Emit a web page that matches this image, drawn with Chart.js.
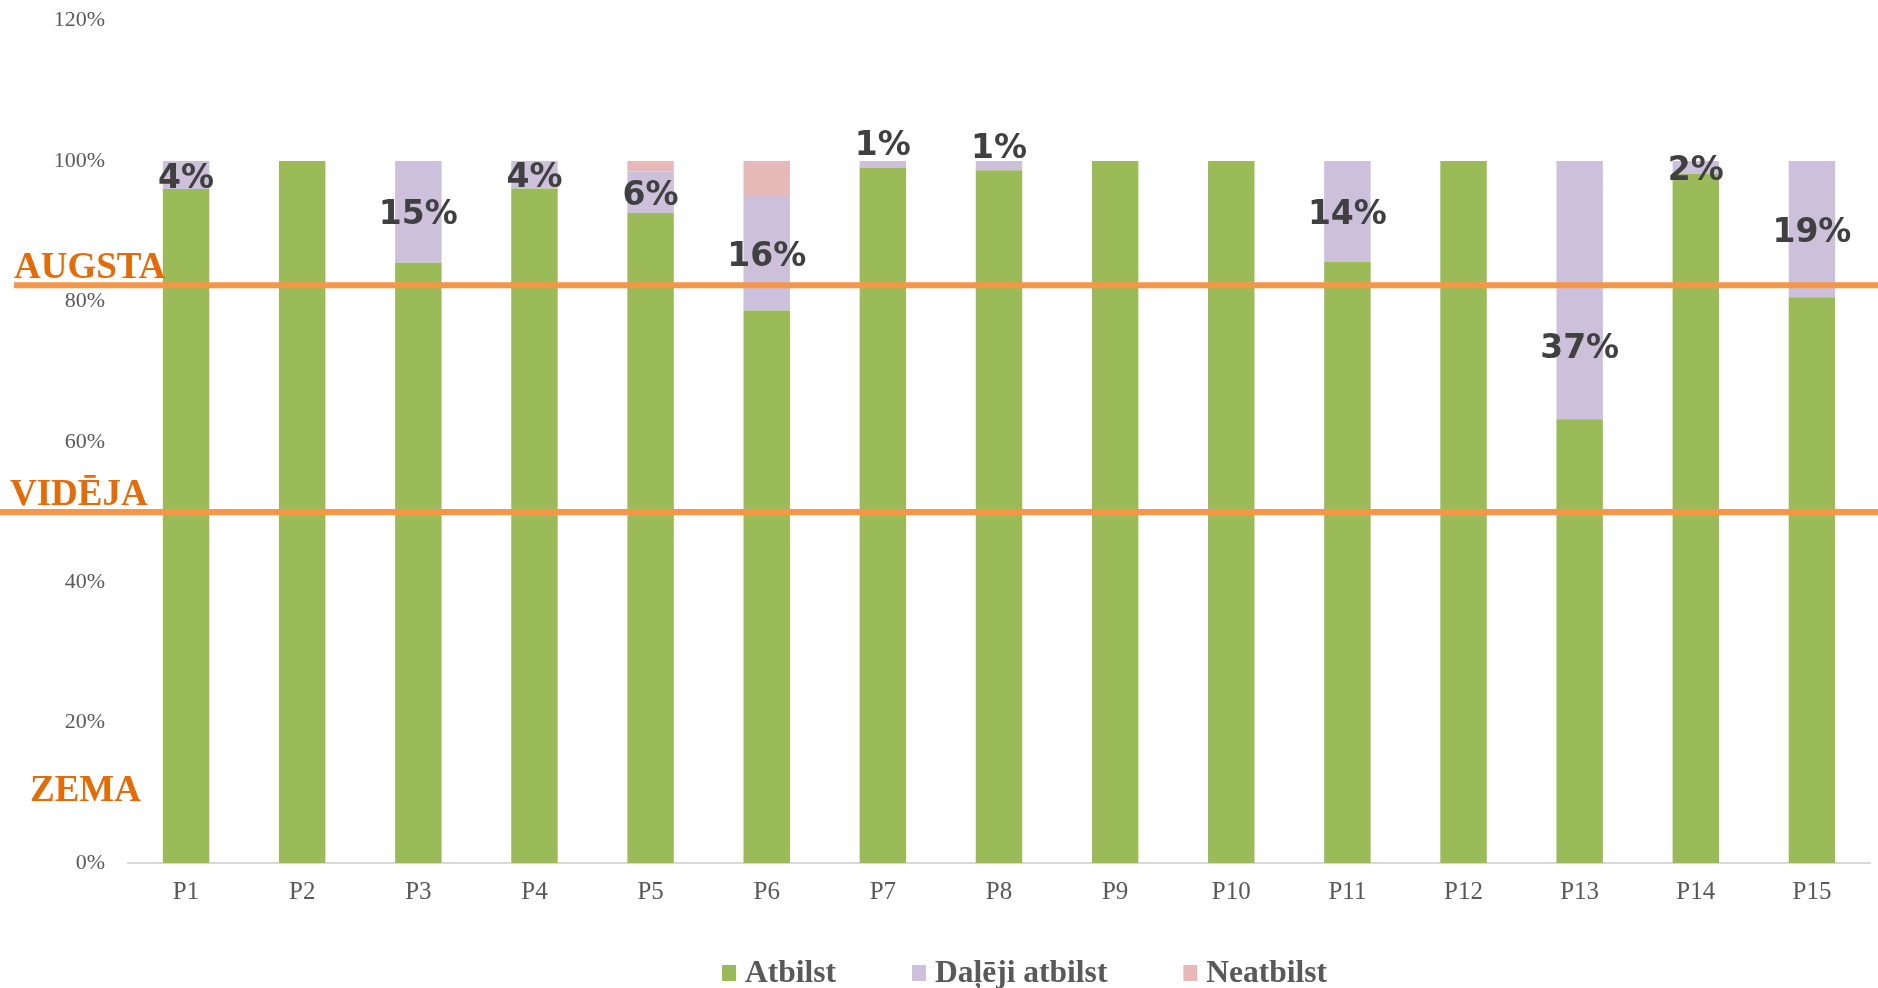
<!DOCTYPE html>
<html><head><meta charset="utf-8">
<script src="https://cdn.jsdelivr.net/npm/chart.js@4.4.0/dist/chart.umd.min.js"></script>
<style>html,body{margin:0;padding:0;background:#fff;overflow:hidden;} canvas{display:block;}</style>
</head><body>
<canvas id="c" width="1878" height="988"></canvas>
<script>
// ---- data ----
const categories = ['P1','P2','P3','P4','P5','P6','P7','P8','P9','P10','P11','P12','P13','P14','P15'];
const seriesNames = ['Atbilst', 'Daļēji atbilst', 'Neatbilst'];
const atbilst       = [96, 100, 85.5, 96.1, 92.6, 78.7, 99, 98.7, 100, 100, 85.6, 100, 63.2, 98.2, 80.6];
const dalejiAtbilst = [4, 0, 14.5, 3.9, 5.9, 16.3, 1, 1.3, 0, 0, 14.4, 0, 36.8, 1.8, 19.4];
const neatbilst     = [0, 0, 0, 0, 1.5, 5, 0, 0, 0, 0, 0, 0, 0, 0, 0];
const yTickValues = [0, 20, 40, 60, 80, 100, 120];
const levelNames = ['AUGSTA', 'VIDĒJA', 'ZEMA'];
const levelLineValues = [82.3, 50, null];

// ---- styles ----
const seriesColors = ['#9BBB59', '#CCC0DA', '#E6B9B8'];
const serif = '"Liberation Serif", "Times New Roman", serif';

const levelsPlugin = {
  id: 'levels',
  afterDatasetsDraw(chart, args, opts) {
    const ctx = chart.ctx, y = chart.scales.y;
    ctx.save();
    levelLineValues.forEach((v, i) => {
      if (v === null) return;
      const py = y.getPixelForValue(v);
      ctx.strokeStyle = opts.lineColor;
      ctx.lineWidth = opts.lineWidth;
      ctx.beginPath();
      ctx.moveTo(opts.lineStartX[i], py);
      ctx.lineTo(chart.width, py);
      ctx.stroke();
    });
    ctx.fillStyle = opts.textColor;
    ctx.font = 'bold ' + opts.fontSize + 'px ' + serif;
    ctx.textAlign = 'left';
    ctx.textBaseline = 'alphabetic';
    levelNames.forEach((name, i) => {
      const py = y.getPixelForValue(opts.textValue[i]) + opts.textDy;
      ctx.fillText(name, opts.textX[i], py);
    });
    ctx.restore();
  }
};

const dataLabelPlugin = {
  id: 'segLabels',
  afterDraw(chart, args, opts) {
    const ctx = chart.ctx;
    const meta = chart.getDatasetMeta(1);
    ctx.save();
    ctx.font = 'bold ' + opts.fontSize + 'px "DejaVu Sans", Verdana, sans-serif';
    ctx.fillStyle = opts.color;
    ctx.textAlign = 'center';
    ctx.textBaseline = 'middle';
    meta.data.forEach((el, i) => {
      const v = dalejiAtbilst[i];
      if (!v) return;
      const cy = (el.y + el.base) / 2 + opts.dy + (opts.shift[i] || 0);
      ctx.fillText(Math.round(v) + '%', el.x, cy);
    });
    ctx.restore();
  }
};

const legendPlugin = {
  id: 'customLegend',
  afterDraw(chart, args, opts) {
    const ctx = chart.ctx;
    ctx.save();
    ctx.font = 'bold ' + opts.fontSize + 'px ' + serif;
    ctx.textBaseline = 'alphabetic';
    ctx.textAlign = 'left';
    let x = opts.startX;
    chart.data.datasets.forEach((ds, i) => {
      ctx.fillStyle = ds.backgroundColor;
      ctx.fillRect(x, opts.boxTop, opts.boxW, opts.boxH);
      x += opts.boxW + opts.boxGap;
      ctx.fillStyle = opts.color;
      ctx.fillText(ds.label, x, opts.baseline);
      x += ctx.measureText(ds.label).width + opts.itemGap;
    });
    ctx.restore();
  }
};

new Chart(document.getElementById('c'), {
  type: 'bar',
  data: {
    labels: categories,
    datasets: [
      { label: seriesNames[0], data: atbilst, backgroundColor: seriesColors[0] },
      { label: seriesNames[1], data: dalejiAtbilst, backgroundColor: seriesColors[1] },
      { label: seriesNames[2], data: neatbilst, backgroundColor: seriesColors[2] }
    ]
  },
  options: {
    responsive: false,
    animation: false,
    devicePixelRatio: 1,
    layout: { padding: { top: 0, right: 8, bottom: 0, left: 0 } },
    datasets: { bar: { barPercentage: 0.4, categoryPercentage: 1.0, borderWidth: 0 } },
    scales: {
      x: {
        stacked: true,
        grid: { display: false, drawTicks: false },
        border: { display: true, color: '#D9D9D9', width: 2 },
        ticks: { color: '#595959', font: { family: serif, size: 25 }, padding: 14, maxRotation: 0 },
        afterFit(s) { s.height = 125; }
      },
      y: {
        stacked: true,
        min: 0, max: 120,
        grid: { display: false, drawTicks: false },
        border: { display: false },
        afterBuildTicks(s) { s.ticks = yTickValues.map(v => ({ value: v })); },
        ticks: { color: '#595959', font: { family: serif, size: 22 }, padding: 23, callback: v => v + '%' },
        afterFit(s) { s.width = 128; s.paddingTop = 20.6; s.paddingBottom = 0; }
      }
    },
    plugins: {
      legend: { display: false },
      tooltip: { enabled: false },
      levels: {
        lineColor: '#F79646', lineWidth: 6,
        lineStartX: [14, 0, 0],
        textColor: '#E36C09', fontSize: 37,
        textX: [14, 10, 30],
        textValue: [82.3, 50, 7.8],
        textDy: -7
      },
      segLabels: {
        fontSize: 33, color: '#404040', dy: 4,
        shift: { 6: -22, 7: -20, 12: 55 }
      },
      customLegend: {
        fontSize: 31.5, color: '#595959',
        startX: 722, boxTop: 965, boxW: 14, boxH: 16, boxGap: 9,
        baseline: 982, itemGap: 76
      }
    }
  },
  plugins: [levelsPlugin, dataLabelPlugin, legendPlugin]
});
</script>
</body></html>
